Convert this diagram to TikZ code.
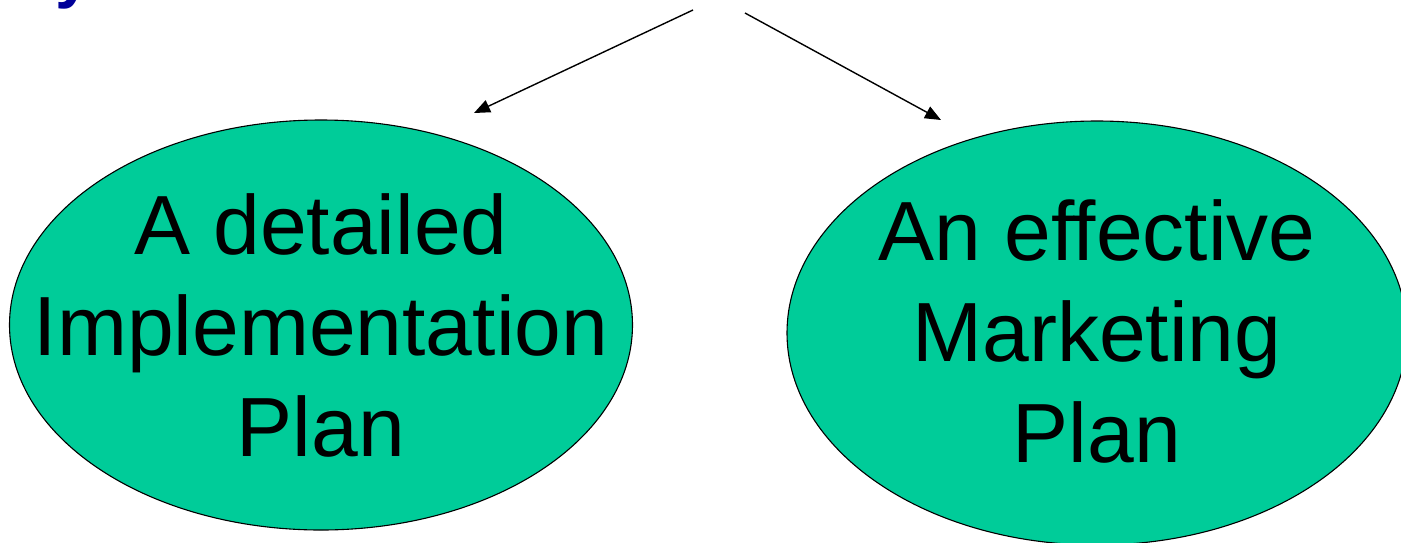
\documentclass[tikz,border=0pt]{standalone}
\usepackage{fontspec}
\setmainfont{Liberation Sans}
\usepackage{tikz}
\usetikzlibrary{arrows.meta}
\usetikzlibrary{shapes.geometric}
\definecolor{bubblegreen}{RGB}{0,204,153}
\definecolor{titleblue}{RGB}{0,0,153}
\tikzset{bubble/.style = {draw, ellipse, fill = bubblegreen, line width = 1.1pt, inner sep = 0}}
\tikzset{bubbletext/.style = {align = center, inner sep = 0, font = \fontsize{84}{101}\selectfont}}
\tikzset{link/.style = {line width = 1.4pt, -{Triangle[length = 16pt, width = 13pt]}}}

\begin{document}
\begin{tikzpicture}[x=1pt, y=-1pt]
    \useasboundingbox (0, 0) rectangle (1401, 542);
    \clip (0, 0) rectangle (1401, 542);
    \node [anchor = base west, text = titleblue, font = \fontsize{66}{66}\selectfont\bfseries, inner sep = 0] (title) at (55, -5) {y};
    \node [bubble, minimum width = 623, minimum height = 410] (impl) at (321, 325) {};
    \node [bubble, minimum width = 620, minimum height = 424] (mkt) at (1097, 333) {};
    \node [bubbletext] (impltext) at (impl) {A detailed\\Implementation\\Plan};
    \node [bubbletext] (mkttext) at ([yshift = 2] mkt) {An effective\\Marketing\\Plan};
    \coordinate (fromleft) at (693, 10);
    \coordinate (fromright) at (745, 13);
    \coordinate (toimpl) at (474, 113);
    \coordinate (tomkt) at (941, 120);
    \draw [link] (fromleft) -- (toimpl);
    \draw [link] (fromright) -- (tomkt);
  \end{tikzpicture}
\end{document}
